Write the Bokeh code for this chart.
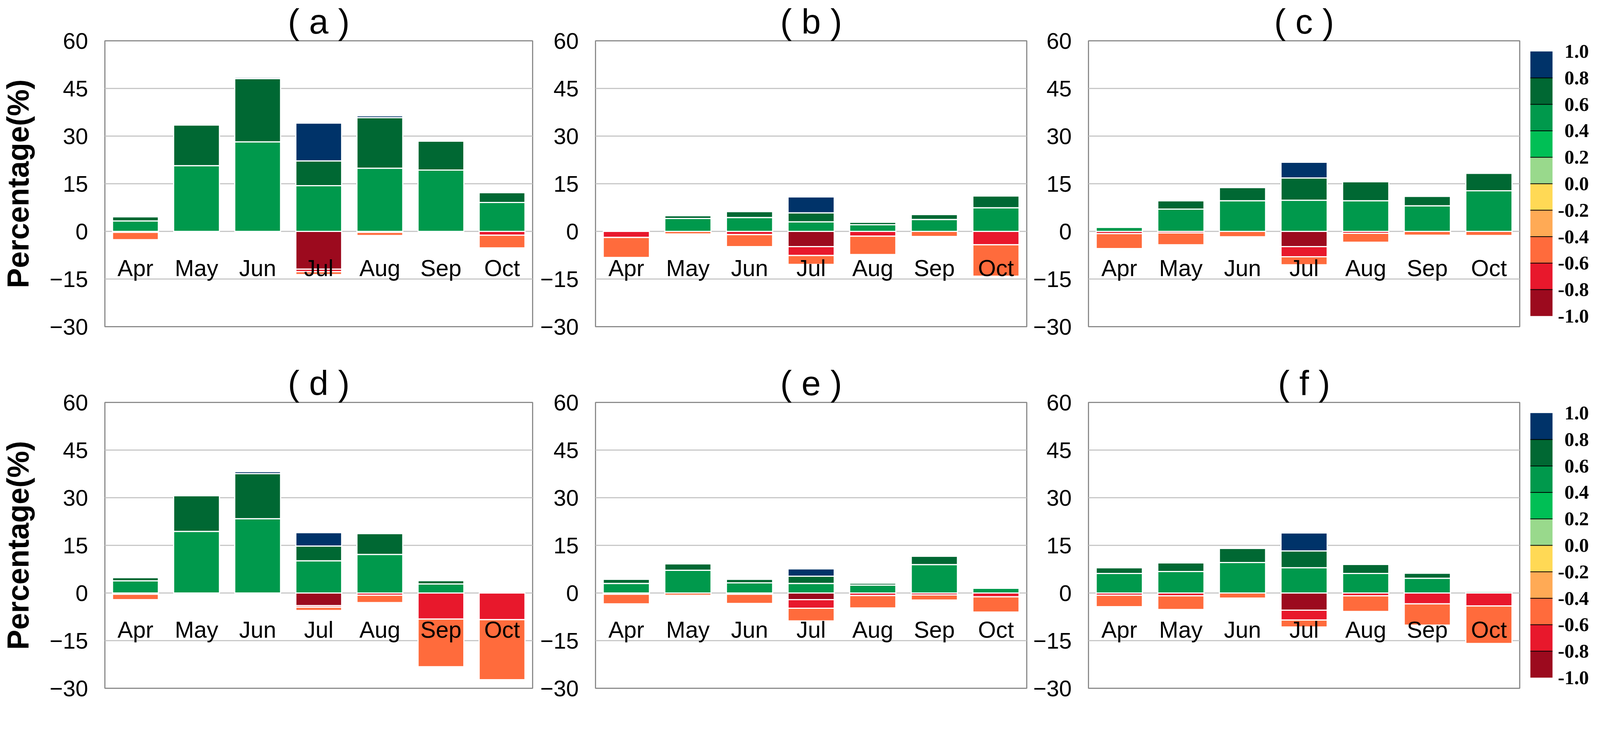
from bokeh.plotting import figure
from bokeh.models import Range1d, FixedTicker, ColumnDataSource
from bokeh.layouts import row, column
from bokeh.embed import file_html
from bokeh.resources import INLINE
from bokeh.core.properties import value

# ---------------- data ----------------
months = ["Apr", "May", "Jun", "Jul", "Aug", "Sep", "Oct"]
y_ticks = [-30, -15, 0, 15, 30, 45, 60]
grid_ticks = [-15, 0, 15, 30, 45]
titles = ["( a )", "( b )", "( c )", "( d )", "( e )", "( f )"]

# colour-bar bins (correlation classes) and colours
cb_edges = [-1.0, -0.8, -0.6, -0.4, -0.2, 0.0, 0.2, 0.4, 0.6, 0.8, 1.0]
cb_colors = ["#9C0A1E", "#E8182C", "#FF6B3C", "#FFAA55", "#FFD955",
             "#99D98C", "#00BF55", "#00994C", "#006833", "#003369"]

# bins present in the bars: -1.0~-0.8, -0.8~-0.6, -0.6~-0.4 (negative side)
#                           0.4~0.6, 0.6~0.8, 0.8~1.0 (positive side)
neg_colors = ["#9C0A1E", "#E8182C", "#FF6B3C"]
pos_colors = ["#00994C", "#006833", "#003369"]

# panel (a)
a_n10 = [0, 0, 0, 11.9, 0, 0, 0]
a_n08 = [0.3, 0, 0, 0.8, 0.3, 0, 1.2]
a_n06 = [2.3, 0, 0, 0.9, 1.0, 0, 4.0]
a_p04 = [3.3, 20.7, 28.2, 14.4, 19.9, 19.3, 9.1]
a_p06 = [1.3, 12.8, 19.9, 7.8, 15.9, 9.1, 3.1]
a_p08 = [0, 0, 0.4, 11.9, 0.6, 0, 0]

# panel (b)
b_n10 = [0, 0, 0, 4.8, 0, 0, 0]
b_n08 = [1.9, 0, 1.0, 2.8, 1.5, 0, 4.2]
b_n06 = [6.3, 0.8, 3.8, 2.8, 5.8, 1.6, 9.9]
b_p04 = [0, 4.05, 4.35, 3.0, 2.1, 3.75, 7.45]
b_p06 = [0, 0.9, 1.9, 2.85, 0.8, 1.55, 3.7]
b_p08 = [0, 0, 0, 5.0, 0, 0, 0]

# panel (c)
c_n10 = [0, 0, 0, 4.8, 0, 0, 0]
c_n08 = [0.7, 0.5, 0, 3.2, 0.6, 0, 0]
c_n06 = [4.7, 3.7, 1.7, 2.5, 2.8, 1.2, 1.3]
c_p04 = [1.3, 7.0, 9.65, 9.8, 9.65, 8.05, 12.8]
c_p06 = [0, 2.65, 4.15, 7.0, 5.95, 3.0, 5.5]
c_p08 = [0, 0, 0, 4.95, 0, 0, 0]

# panel (d)
d_n10 = [0, 0, 0, 4.0, 0, 0, 0]
d_n08 = [0.4, 0, 0, 0.5, 0.7, 8.2, 8.4]
d_n06 = [1.7, 0, 0, 1.0, 2.3, 15.0, 18.9]
d_p04 = [3.85, 19.4, 23.4, 10.15, 12.15, 2.85, 0]
d_p06 = [1.0, 11.2, 14.2, 4.65, 6.55, 1.05, 0]
d_p08 = [0, 0, 0.6, 4.2, 0, 0, 0]

# panel (e)
e_n10 = [0, 0, 0, 2.1, 0, 0, 0]
e_n08 = [0.4, 0, 0.4, 2.7, 0.8, 0.6, 1.2]
e_n06 = [3.0, 0.7, 2.9, 4.0, 3.9, 1.6, 4.8]
e_p04 = [3.0, 7.15, 3.2, 3.0, 2.5, 8.95, 1.5]
e_p06 = [1.3, 2.05, 1.1, 2.3, 0.6, 2.65, 0]
e_p08 = [0, 0, 0, 2.3, 0, 0, 0]

# panel (f)
f_n10 = [0, 0, 0, 5.4, 0, 0, 0]
f_n08 = [0.7, 0.9, 0, 3.1, 0.9, 3.4, 4.1]
f_n06 = [3.6, 4.3, 1.6, 2.2, 4.9, 6.7, 11.8]
f_p04 = [6.15, 6.75, 9.6, 7.95, 6.15, 4.65, 0.45]
f_p06 = [1.8, 2.75, 4.45, 5.3, 2.85, 1.6, 0]
f_p08 = [0, 0, 0, 5.65, 0, 0, 0]

# ---------------- style / layout (reference pixels scaled by S) ----------------
S = 0.965
FONT = "Liberation Sans"
LABEL_Y = -11.6          # baseline of the month names inside the frame


def px(v):
    return int(round(v * S))


FRAME_W, FRAME_H = px(1144), px(759)
TOP = px(108)
CB_PX_UNIT_Y = 366 * S
CB_FRAME_W, CB_FRAME_H = px(157), px(791)
CB_TOP = px(92)


def make_panel(title, neg, pos, left, bottom, ylabel=None):
    right = 4
    p = figure(x_range=months, y_range=Range1d(-30, 60),
               width=left + FRAME_W + right, height=TOP + FRAME_H + bottom,
               min_border_left=left, min_border_right=right,
               min_border_top=TOP, min_border_bottom=bottom,
               output_backend="svg", toolbar_location=None, title=title)
    src = ColumnDataSource(dict(
        x=months,
        n10=[-v for v in neg[0]], n08=[-v for v in neg[1]], n06=[-v for v in neg[2]],
        p04=pos[0], p06=pos[1], p08=pos[2]))
    p.vbar_stack(["n10", "n08", "n06"], x="x", width=0.75, source=src,
                 fill_color=neg_colors, line_color="white", line_width=3)
    p.vbar_stack(["p04", "p06", "p08"], x="x", width=0.75, source=src,
                 fill_color=pos_colors, line_color="white", line_width=3)
    p.text(x=months, y=[LABEL_Y] * len(months), text=months,
           text_font=value(FONT), text_font_size="%dpx" % px(61), text_color="black",
           text_align="center", text_baseline="alphabetic")

    p.title.text_font = FONT
    p.title.text_font_size = "%dpx" % px(92)
    p.title.text_font_style = "normal"
    p.title.text_color = "black"
    p.title.align = "center"
    p.title.standoff = 0

    p.xaxis.visible = False
    p.xgrid.visible = False
    p.yaxis.ticker = FixedTicker(ticks=y_ticks)
    p.yaxis.major_label_text_font = FONT
    p.yaxis.major_label_text_font_size = "%dpx" % px(60)
    p.yaxis.major_label_text_color = "black"
    p.yaxis.major_tick_line_color = None
    p.yaxis.minor_tick_line_color = None
    p.yaxis.axis_line_color = None
    p.yaxis.major_label_standoff = px(38)
    if ylabel:
        p.yaxis.axis_label = ylabel
        p.yaxis.axis_label_text_font = FONT
        p.yaxis.axis_label_text_font_size = "%dpx" % px(80)
        p.yaxis.axis_label_text_font_style = "bold"
        p.yaxis.axis_label_text_color = "black"
        p.yaxis.axis_label_standoff = px(36)
    p.ygrid.ticker = FixedTicker(ticks=grid_ticks)
    p.ygrid.grid_line_color = "#C8C8C8"
    p.ygrid.grid_line_width = 3
    p.outline_line_color = "#8C8C8C"
    p.outline_line_width = 3
    p.background_fill_color = "white"
    p.border_fill_color = "white"
    return p


def make_colorbar(bottom):
    px_per_unit_x = 59 * S
    left, right = px(24), 4
    half = CB_FRAME_H / 2 / CB_PX_UNIT_Y
    cb = figure(x_range=Range1d(0, CB_FRAME_W / px_per_unit_x), y_range=Range1d(-half, half),
                width=left + CB_FRAME_W + right, height=CB_TOP + CB_FRAME_H + bottom,
                min_border_left=left, min_border_right=right,
                min_border_top=CB_TOP, min_border_bottom=bottom,
                output_backend="svg", toolbar_location=None)
    cb.quad(left=0, right=1, bottom=cb_edges[:-1], top=cb_edges[1:],
            fill_color=cb_colors, line_color=None)
    inner = cb_edges[1:-1]
    cb.segment(x0=[0] * len(inner), x1=[1] * len(inner), y0=inner, y1=inner,
               line_color="black", line_width=2)
    cb.text(x=[(CB_FRAME_W - 2) / px_per_unit_x] * len(cb_edges), y=cb_edges,
            text=["%.1f" % e for e in cb_edges],
            text_font=value("Liberation Serif"), text_font_style="bold",
            text_font_size="%dpx" % px(52), text_color="black",
            text_align="right", text_baseline="middle")
    cb.axis.visible = False
    cb.grid.visible = False
    cb.outline_line_color = None
    return cb


TOP_BOTTOM = 90
BOT_BOTTOM = 34
pa = make_panel(titles[0], [a_n10, a_n08, a_n06], [a_p04, a_p06, a_p08], px(268), TOP_BOTTOM, "Percentage(%)")
pb = make_panel(titles[1], [b_n10, b_n08, b_n06], [b_p04, b_p06, b_p08], px(163), TOP_BOTTOM)
pc = make_panel(titles[2], [c_n10, c_n08, c_n06], [c_p04, c_p06, c_p08], px(160), TOP_BOTTOM)
row1_h = TOP + FRAME_H + TOP_BOTTOM
cb1 = make_colorbar(row1_h - CB_TOP - CB_FRAME_H)

pd_ = make_panel(titles[3], [d_n10, d_n08, d_n06], [d_p04, d_p06, d_p08], px(268), BOT_BOTTOM, "Percentage(%)")
pe = make_panel(titles[4], [e_n10, e_n08, e_n06], [e_p04, e_p06, e_p08], px(163), BOT_BOTTOM)
pf = make_panel(titles[5], [f_n10, f_n08, f_n06], [f_p04, f_p06, f_p08], px(160), BOT_BOTTOM)
row2_h = TOP + FRAME_H + BOT_BOTTOM
cb2 = make_colorbar(row2_h - CB_TOP - CB_FRAME_H)

layout = column(row(pa, pb, pc, cb1, spacing=0), row(pd_, pe, pf, cb2, spacing=0), spacing=0)

open("out.html", "w").write(file_html(layout, INLINE))
